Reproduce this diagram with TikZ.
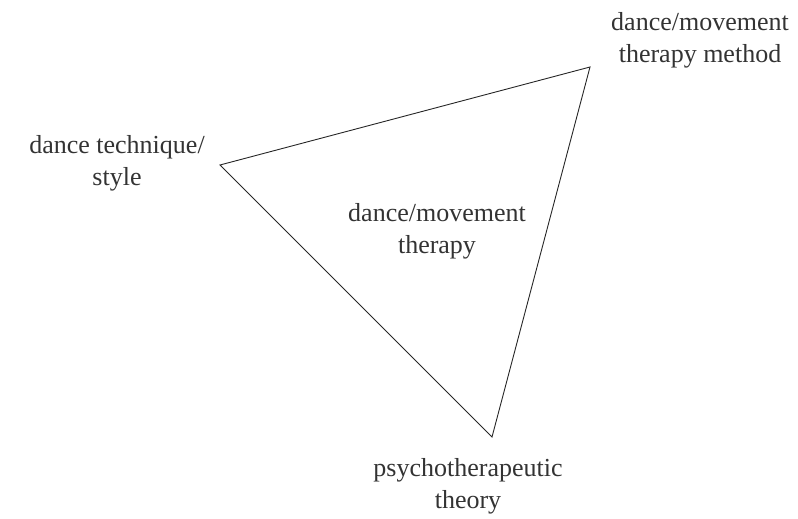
\documentclass[tikz,border=0pt]{standalone}
\usepackage{fontspec}
\setmainfont{Liberation Serif}
\begin{document}
\begin{tikzpicture}[x=1pt,y=-1pt,
  lbl/.style={align=center,font=\fontsize{26}{32}\selectfont,text=black!80,inner sep=0pt},
  edge/.style={draw=black!85,line width=0.9pt,line join=miter}]
\useasboundingbox (0,0) rectangle (798,519);
\coordinate (L) at (220,165);
\coordinate (T) at (590,67);
\coordinate (B) at (492,437);
\draw[edge] (L) -- (T) -- (B) -- cycle;
\node[lbl] (tech) at (117,163) {dance technique/\\style};
\node[lbl] (meth) at (700,40) {dance/movement\\therapy method};
\node[lbl] (dmt) at (437,231) {dance/movement\\therapy};
\node[lbl] (psy) at (468,486) {psychotherapeutic\\theory};
\end{tikzpicture}
\end{document}
